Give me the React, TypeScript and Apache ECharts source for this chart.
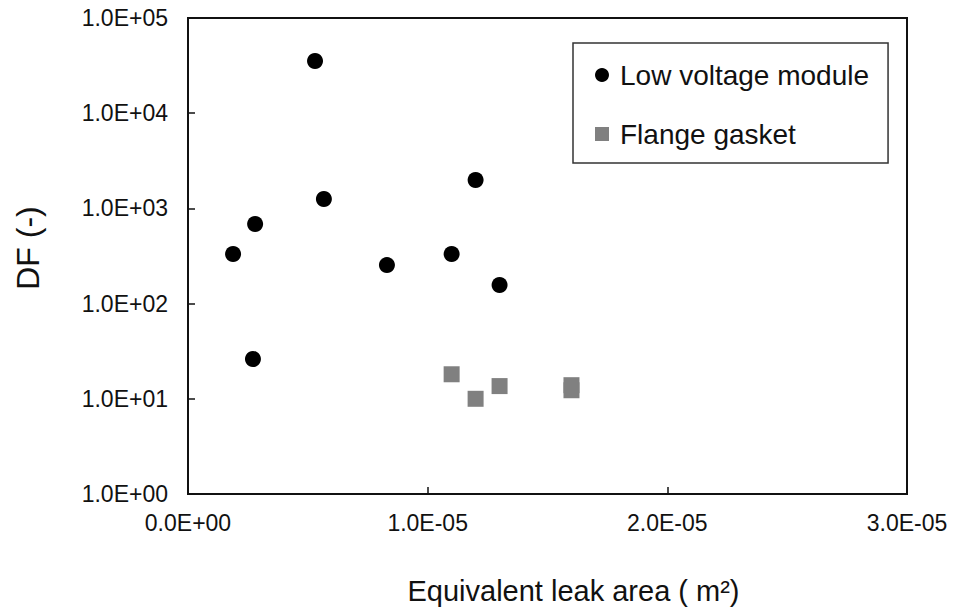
import React, { useEffect, useRef } from "react";
import * as echarts from "echarts";

const lowVoltageX = [1.88e-6, 2.8e-6, 2.71e-6, 5.3e-6, 5.67e-6, 8.3e-6, 1.1e-5, 1.2e-5, 1.3e-5];
const lowVoltageY = [332, 686, 26.2, 35300, 1256, 254, 332, 1987, 157];
const flangeX = [1.1e-5, 1.2e-5, 1.3e-5, 1.6e-5, 1.6e-5];
const flangeY = [18.1, 10, 13.6, 13.9, 12.3];
const seriesNames = ["Low voltage module", "Flange gasket"];
const xTitle = "Equivalent leak area ( m²)";
const yTitle = "DF (-)";

const FONT = "'Liberation Sans', Arial, sans-serif";

function fmtExp(v: number): string {
  const s = v.toExponential(1);
  const [m, e] = s.split("e");
  const n = parseInt(e, 10);
  return `${m}E${n < 0 ? "-" : "+"}${String(Math.abs(n)).padStart(2, "0")}`;
}

export default function App() {
  const ref = useRef<HTMLDivElement>(null);
  useEffect(() => {
    if (!ref.current) return;
    const chart = echarts.init(ref.current, undefined, { renderer: "svg", width: 962, height: 612 });
    chart.setOption({
      animation: false,
      backgroundColor: "#fff",
      textStyle: { fontFamily: FONT },
      grid: {
        left: 188,
        right: 55,
        top: 18,
        bottom: 118,
        outerBoundsMode: "none",
        containLabel: false,
        show: true,
        borderColor: "#111",
        borderWidth: 2,
        backgroundColor: "transparent",
      },
      legend: {
        orient: "vertical",
        left: 573,
        top: 43,
        padding: [18, 19, 15, 22],
        itemWidth: 14,
        itemHeight: 14,
        itemGap: 31,
        borderColor: "#333",
        borderWidth: 1.5,
        borderRadius: 0,
        textStyle: { fontSize: 28, color: "#111", fontFamily: FONT, padding: [0, 0, 0, 6] },
        data: [
          { name: seriesNames[0], icon: "circle" },
          { name: seriesNames[1], icon: "rect" },
        ],
      },
      xAxis: {
        type: "value",
        min: 0,
        max: 3e-5,
        interval: 1e-5,
        name: xTitle,
        nameLocation: "middle",
        nameGap: 82,
        nameTextStyle: { fontSize: 29, color: "#111", fontFamily: FONT, padding: [0, 0, 0, 52] },
        axisLine: { show: true, lineStyle: { color: "#111", width: 2 } },
        axisTick: { show: true, inside: true, length: 7, lineStyle: { color: "#111", width: 1.5 } },
        axisLabel: { fontSize: 23, color: "#111", margin: 17, formatter: (v: number) => fmtExp(v) },
        splitLine: { show: false },
      },
      yAxis: {
        type: "log",
        logBase: 10,
        min: 1,
        max: 1e5,
        name: yTitle,
        nameLocation: "middle",
        nameGap: 144,
        nameTextStyle: { fontSize: 32, color: "#111", fontFamily: FONT, padding: [0, 0, 0, 16] },
        axisLine: { show: true, lineStyle: { color: "#111", width: 2 } },
        axisTick: { show: true, inside: true, length: 7, lineStyle: { color: "#111", width: 1.5 } },
        axisLabel: { fontSize: 23, color: "#111", margin: 20, formatter: (v: number) => fmtExp(v) },
        splitLine: { show: false },
        minorTick: { show: false },
      },
      series: [
        {
          name: seriesNames[0],
          type: "scatter",
          symbol: "circle",
          symbolSize: 16,
          itemStyle: { color: "#000", opacity: 1 },
          data: lowVoltageX.map((x, i) => [x, lowVoltageY[i]]),
        },
        {
          name: seriesNames[1],
          type: "scatter",
          symbol: "rect",
          symbolSize: 16,
          itemStyle: { color: "#808080", opacity: 1 },
          data: flangeX.map((x, i) => [x, flangeY[i]]),
        },
      ],
    });
    return () => chart.dispose();
  }, []);
  return <div ref={ref} style={{ width: 962, height: 612, position: "absolute", left: 0, top: 0 }} />;
}
